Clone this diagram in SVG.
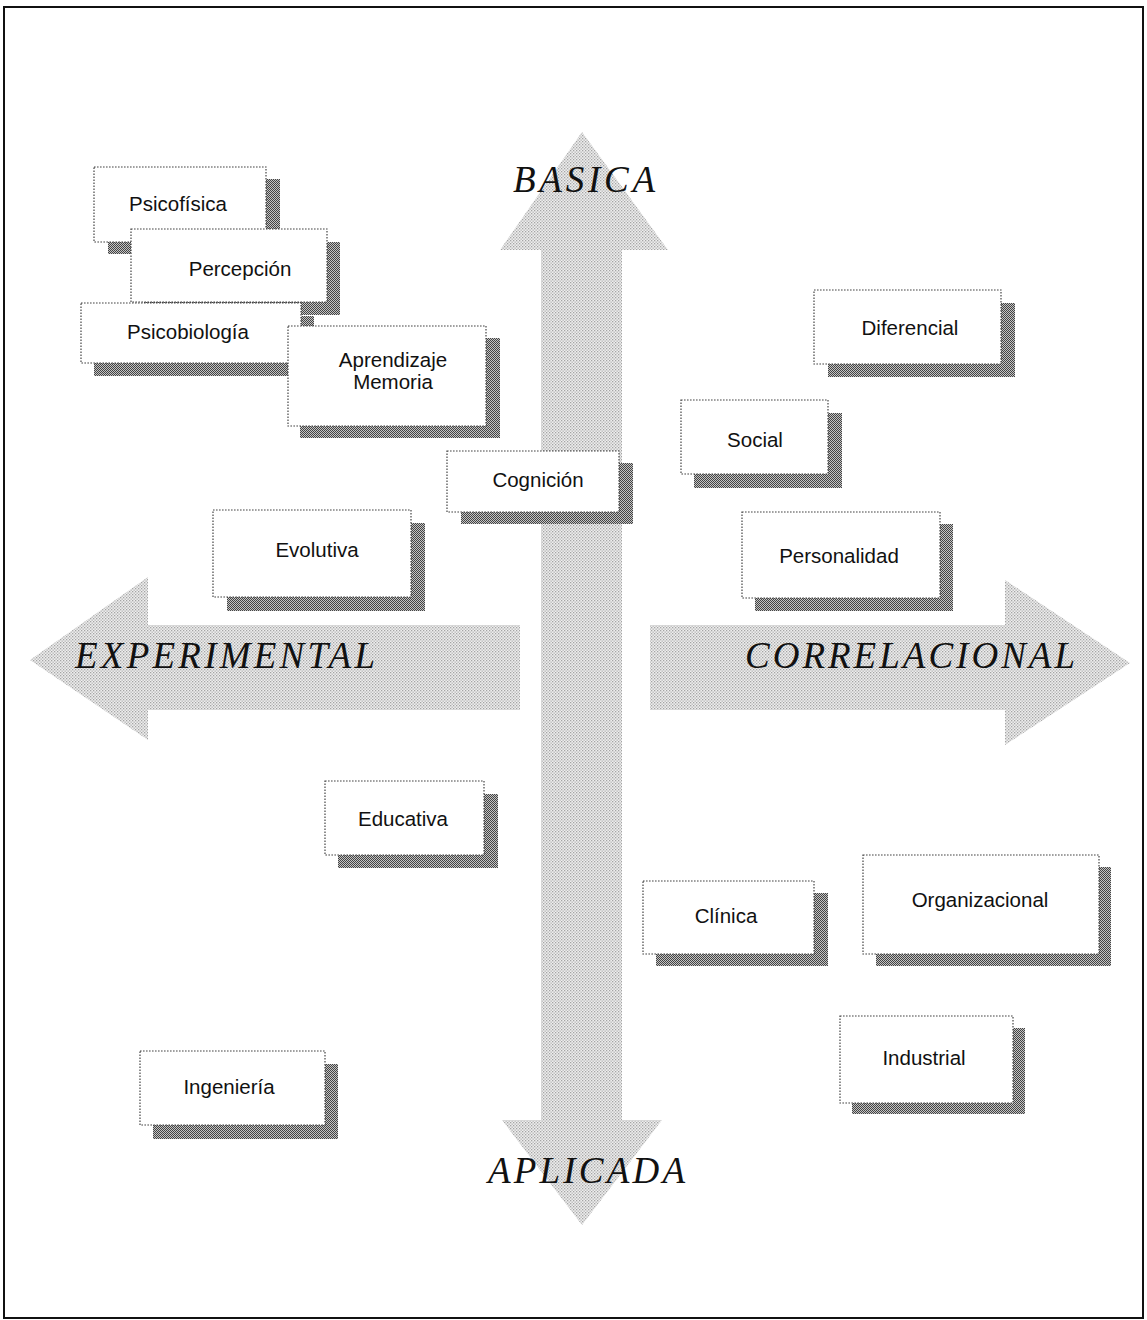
<svg xmlns="http://www.w3.org/2000/svg" width="1147" height="1320" viewBox="0 0 1147 1320">
<defs>
<pattern id="halftone" width="3" height="3" patternUnits="userSpaceOnUse">
<rect width="3" height="3" fill="#eeeeee"/>
<rect x="0" y="0" width="1.3" height="1.3" fill="#a4a4a4"/>
<rect x="1.5" y="1.5" width="1.3" height="1.3" fill="#b0b0b0"/>
</pattern>
<pattern id="checker" width="2" height="2" patternUnits="userSpaceOnUse">
<rect width="2" height="2" fill="#c4c4c4"/>
<rect width="1" height="1" fill="#444"/>
<rect x="1" y="1" width="1" height="1" fill="#444"/>
</pattern>
<style>
.box{fill:#fff;stroke:#444;stroke-width:1.2;stroke-dasharray:1.6 1.4}
.sh{fill:url(#checker)}
.lbl{font-family:"Liberation Sans",Arial,sans-serif;font-size:20.5px;fill:#111;text-anchor:middle}
.axis{font-family:"Liberation Serif","Times New Roman",serif;font-style:italic;font-size:37px;fill:#111}
.arrow{fill:url(#halftone)}
</style>
</defs>
<rect x="4" y="7" width="1139" height="1311" fill="#fff" stroke="#111" stroke-width="2"/>
<g id="connectors">
<polygon class="arrow" points="582,132 668,250 622,250 622,1120 662,1120 582,1225 502,1120 541,1120 541,250 500,250"/>
<polygon class="arrow" points="30,660 148,577 148,625 520,625 520,710 148,710 148,740"/>
<polygon class="arrow" points="1130,663 1005,580 1005,625 650,625 650,710 1005,710 1005,745"/>
</g>
<g id="axis-labels">
<text class="axis" x="513" y="192" textLength="142" lengthAdjust="spacing">BASICA</text>
<text class="axis" x="75" y="668" textLength="300" lengthAdjust="spacing">EXPERIMENTAL</text>
<text class="axis" x="745" y="668" textLength="330" lengthAdjust="spacing">CORRELACIONAL</text>
<text class="axis" x="488" y="1183" textLength="197" lengthAdjust="spacing">APLICADA</text>
</g>
<g id="psicofisica"><rect class="sh" x="108" y="179" width="172" height="75"/><rect class="box" x="94" y="167" width="172" height="75"/><text class="lbl" x="178" y="211">Psicofísica</text></g>
<g id="percepcion"><rect class="sh" x="144" y="242" width="196" height="73"/><rect class="box" x="131" y="229" width="196" height="73"/><text class="lbl" x="240" y="276">Percepción</text></g>
<g id="psicobiologia"><rect class="sh" x="94" y="316" width="220" height="60"/><rect class="box" x="81" y="303" width="220" height="60"/><text class="lbl" x="188" y="339">Psicobiología</text></g>
<g id="aprendizaje"><rect class="sh" x="300" y="338" width="200" height="100"/><rect class="box" x="288" y="326" width="198" height="100"/><text class="lbl" x="393" y="367">Aprendizaje</text><text class="lbl" x="393" y="389">Memoria</text></g>
<g id="cognicion"><rect class="sh" x="461" y="463" width="172" height="61"/><rect class="box" x="447" y="451" width="172" height="61"/><text class="lbl" x="538" y="487">Cognición</text></g>
<g id="evolutiva"><rect class="sh" x="227" y="523" width="198" height="88"/><rect class="box" x="213" y="510" width="198" height="87"/><text class="lbl" x="317" y="557">Evolutiva</text></g>
<g id="diferencial"><rect class="sh" x="828" y="303" width="187" height="74"/><rect class="box" x="814" y="290" width="187" height="74"/><text class="lbl" x="910" y="335">Diferencial</text></g>
<g id="social"><rect class="sh" x="694" y="413" width="148" height="75"/><rect class="box" x="681" y="400" width="147" height="74"/><text class="lbl" x="755" y="447">Social</text></g>
<g id="personalidad"><rect class="sh" x="755" y="524" width="198" height="87"/><rect class="box" x="742" y="512" width="198" height="86"/><text class="lbl" x="839" y="563">Personalidad</text></g>
<g id="educativa"><rect class="sh" x="338" y="794" width="160" height="74"/><rect class="box" x="325" y="781" width="159" height="74"/><text class="lbl" x="403" y="826">Educativa</text></g>
<g id="clinica"><rect class="sh" x="656" y="893" width="172" height="73"/><rect class="box" x="643" y="881" width="171" height="73"/><text class="lbl" x="726" y="923">Clínica</text></g>
<g id="organizacional"><rect class="sh" x="876" y="867" width="235" height="99"/><rect class="box" x="863" y="855" width="236" height="99"/><text class="lbl" x="980" y="907">Organizacional</text></g>
<g id="industrial"><rect class="sh" x="852" y="1028" width="173" height="86"/><rect class="box" x="840" y="1016" width="173" height="87"/><text class="lbl" x="924" y="1065">Industrial</text></g>
<g id="ingenieria"><rect class="sh" x="153" y="1064" width="185" height="75"/><rect class="box" x="140" y="1051" width="185" height="74"/><text class="lbl" x="229" y="1094">Ingeniería</text></g>
</svg>
